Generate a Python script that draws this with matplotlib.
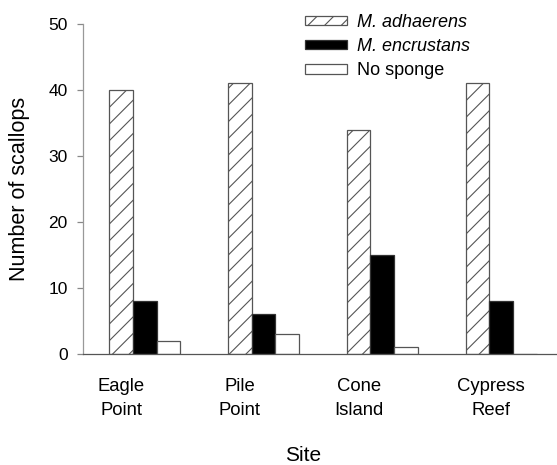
import matplotlib
matplotlib.use("Agg")
import matplotlib.pyplot as plt
import numpy as np

sites = ["Eagle\nPoint", "Pile\nPoint", "Cone\nIsland", "Cypress\nReef"]
adhaerens = [40, 41, 34, 41]
encrustans = [8, 6, 15, 8]
no_sponge = [2, 3, 1, 0]
series_labels = ["M. adhaerens", "M. encrustans", "No sponge"]
yticks = [0, 10, 20, 30, 40, 50]

plt.rcParams['font.family'] = ['Liberation Sans', 'DejaVu Sans']
plt.rcParams['hatch.linewidth'] = 0.8
plt.rcParams['hatch.color'] = '#555555'

W, H = 557, 465
fig = plt.figure(figsize=(W / 100, H / 100), dpi=100)
ax = fig.add_axes([83 / W, 1 - 354 / H, (557 - 83) / W, (354 - 24) / H])

x = np.arange(len(sites))
w = 0.2
ax.bar(x - w, adhaerens, w, color='white', edgecolor='#555555', linewidth=0.9,
       hatch='//', label=series_labels[0])
ax.bar(x, encrustans, w, color='black', edgecolor='#333333', linewidth=0.9,
       label=series_labels[1])
ax.bar(x + w, no_sponge, w, color='white', edgecolor='#555555', linewidth=0.9,
       label=series_labels[2])

# label placement offsets (layout only)
label_shift = np.array([-w, -w, -w, -w + 0.115])

ax.set_xlim(-0.52, 3.47)
ax.set_ylim(0, 50)
ax.set_yticks(yticks)
ax.set_yticklabels([str(v) for v in yticks], fontsize=12.5)
ax.set_xticks(x + label_shift)
ax.set_xticklabels(sites, fontsize=13.3, linespacing=1.6)
ax.tick_params(axis='x', length=0, pad=17)
ax.tick_params(axis='y', length=4, width=0.9, color='#888888', pad=7)

for s in ['top', 'right']:
    ax.spines[s].set_visible(False)
ax.spines['left'].set_color('#999999')
ax.spines['bottom'].set_color('#555555')
ax.spines['left'].set_linewidth(0.9)
ax.spines['bottom'].set_linewidth(0.9)

ax.set_ylabel("Number of scallops", fontsize=15.5)
ax.yaxis.set_label_coords(20 / W, 1 - 189 / H, transform=fig.transFigure)
ax.yaxis.label.set_va('center')
ax.set_xlabel("Site", fontsize=15)
ax.xaxis.set_label_coords(303 / W, 1 - 455 / H, transform=fig.transFigure)
ax.xaxis.label.set_va('center')

leg = ax.legend(loc='upper left', bbox_to_anchor=(305 / W, 1 - 14 / H),
                bbox_transform=fig.transFigure, frameon=False, fontsize=13,
                handlelength=2.3, handleheight=0.4, handletextpad=0.6,
                labelspacing=0.4, borderpad=0, borderaxespad=0)
for t in leg.get_texts()[:2]:
    t.set_style('italic')

fig.savefig("out.png", dpi=100)
